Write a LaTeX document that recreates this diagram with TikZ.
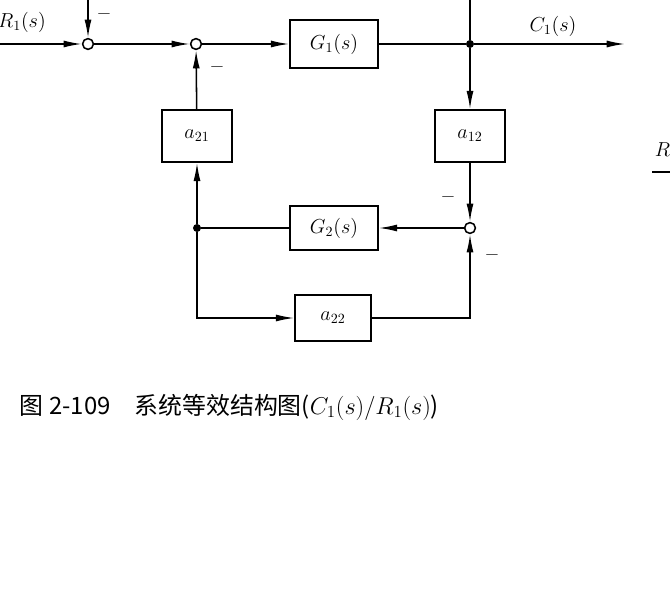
\documentclass[tikz,border=0pt]{standalone}
\usepackage{fontspec}
\newfontfamily\cjk{Noto Sans CJK SC}
\usetikzlibrary{arrows.meta, positioning}

\begin{document}
\begin{tikzpicture}[x=0.025cm, y=-0.025cm, >={Latex[length=13pt,width=5pt]}, font=\Large]
        \tikzset{
            block/.style={draw, shape = rectangle, line width=1.2pt, minimum width=2.2cm, minimum height=1.2cm},
            small/.style={draw, shape = rectangle, line width=1.2pt, minimum width=1.75cm, minimum height=1.3cm},
            sum/.style={draw, shape = circle, line width=1.1pt, inner sep=0pt, minimum size=0.27cm},
            dot/.style={fill, shape = circle, inner sep=0pt, minimum size=0.2cm},
            line/.style={line width=1.1pt},
            minus/.style={font=\Large\bfseries}
        }
        \useasboundingbox (0,0) rectangle (670,590);
        \node[sum] (S1) at (88,44) {};
        \node[sum] (S2) at (196,44) {};
        \node[block] (G1) at (334,44) {$G_1(s)$};
        \node[dot] (P1) at (470,44) {};
        \node[small] (A21) at (197,136) {$a_{21}$};
        \node[small] (A12) at (470,136) {$a_{12}$};
        \node[sum] (S3) at (470,228) {};
        \node[block, minimum height=1.1cm] (G2) at (334,228) {$G_2(s)$};
        \node[dot] (P2) at (197,228) {};
        \node[small, minimum width=1.9cm, minimum height=1.15cm] (A22) at (333,318) {$a_{22}$};
        \coordinate (in) at (0,44);
        \coordinate (top1) at (88,0);
        \coordinate (top2) at (470,0);
        \coordinate (out) at (625,44);
        \coordinate (c1) at (197,318);
        \coordinate (c2) at (470,318);
        \draw[line, ->] (in) -- (S1);
        \draw[line, ->] (top1) -- (S1);
        \draw[line, ->] (S1) -- (S2);
        \draw[line, ->] (S2) -- (G1);
        \draw[line] (G1) -- (P1);
        \draw[line] (top2) -- (P1);
        \draw[line, ->] (P1) -- (out);
        \draw[line, ->] (P1) -- (A12);
        \draw[line, ->] (A12) -- (S3);
        \draw[line, ->] (S3) -- (G2);
        \draw[line] (G2) -- (P2);
        \draw[line, ->] (P2) -- (A21);
        \draw[line, ->] (A21) -- (S2);
        \draw[line, ->] (P2) -- (c1) -- (A22);
        \draw[line, ->] (A22) -- (c2) -- (S3);
        % labels
        \node at (22,22) {$R_1(s)$};
        \node at (553,26) {$C_1(s)$};
        \node[minus] at (104,17) {--};
        \node[minus] at (217,70) {--};
        \node[minus] at (448,200) {--};
        \node[minus] at (492,258) {--};
        \node[anchor=west] at (650,150) {$R$};
        \draw[line] (652,172) -- (670,172);
        \node[anchor=west, font=\fontsize{17}{20}\selectfont] at (15,407) {\cjk 图 2-109\quad 系统等效结构图($C_1(s)/R_1(s)$)};
    \end{tikzpicture}
\end{document}
